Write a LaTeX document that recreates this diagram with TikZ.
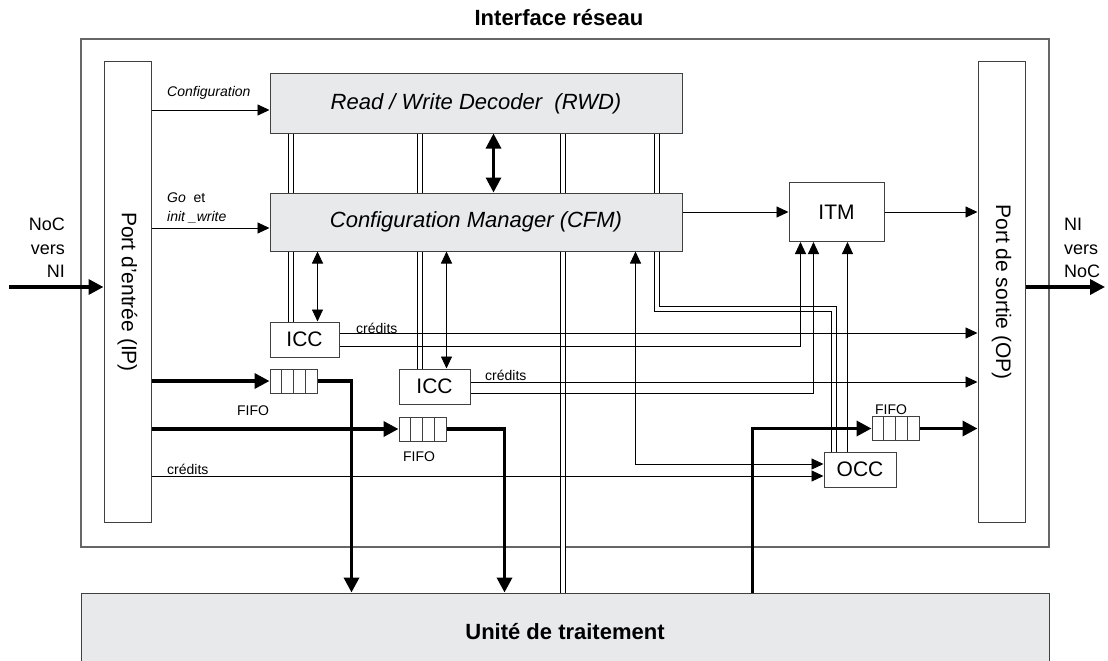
\documentclass[tikz,border=0pt]{standalone}
\usepackage{fontspec}
\setmainfont{Liberation Sans}
\usetikzlibrary{arrows.meta}
\definecolor{boxgray}{RGB}{232,233,235}

\begin{document}
\begin{tikzpicture}
	[x=1pt, y=-1pt,
	>={Triangle[length=12pt,width=11pt]},
	frame/.style={draw=black!60, line width=1.4pt, inner sep=0pt},
	box/.style={draw=black!75, line width=1pt, inner sep=0pt,
		font=\fontsize{21}{25}\selectfont},
	gbox/.style={box, fill=boxgray, font=\fontsize{22}{26}\selectfont\itshape},
	txt/.style={inner sep=0pt, font=\fontsize{21}{25}\selectfont},
	head/.style={inner sep=0pt, font=\fontsize{22}{26}\selectfont\bfseries},
	side/.style={inner sep=0pt, font=\fontsize{18}{23.5}\selectfont},
	lbl/.style={inner sep=0pt, font=\fontsize{14}{19}\selectfont},
	ilbl/.style={lbl, font=\fontsize{14}{19}\selectfont\itshape},
	fifo/.style={draw=black!75, line width=1pt, inner sep=0pt,
		minimum width=47pt, minimum height=24pt,
		path picture={\foreach \k in {1,2,3}
			\draw[black!75, line width=1pt]
			([xshift=\k*11.75pt]path picture bounding box.north west) --
			([xshift=\k*11.75pt]path picture bounding box.south west);}},
	arr/.style={line width=0.9pt, ->},
	both/.style={line width=0.9pt, <->},
	bus/.style={line width=1pt, double, double distance=4.5pt},
	data/.style={line width=3.5pt, -{Triangle[length=15pt,width=15pt]}},
	bigboth/.style={line width=3pt,
		{Triangle[length=15pt,width=15pt]}-{Triangle[length=15pt,width=15pt]}}]
	\useasboundingbox (0,0) rectangle (1108,661);
	% blocs
	\node[head] (title) at (559,18) {Interface réseau};
	\node[frame, minimum width=968pt, minimum height=508pt] (ni) at (565,293) {};
	\node[box, minimum width=47pt, minimum height=460pt] (ip) at (127.5,292) {};
	\node[txt, rotate=-90] (ip-txt) at (ip) {Port d'entrée (IP)};
	\node[box, minimum width=47pt, minimum height=460pt] (op) at (1001.5,292) {};
	\node[txt, rotate=-90] (op-txt) at (op) {Port de sortie (OP)};
	\node[gbox, minimum width=412pt, minimum height=59pt] (rwd) at (476,103.5)
		{Read / Write Decoder\ \ (RWD)};
	\node[gbox, minimum width=412pt, minimum height=58pt] (cfm) at (476,222)
		{Configuration Manager (CFM)};
	\node[box, minimum width=95pt, minimum height=59pt] (itm) at (836.5,212) {ITM};
	\node[box, minimum width=69pt, minimum height=35pt] (icc1) at (304.5,339.5) {ICC};
	\node[box, minimum width=71pt, minimum height=35pt] (icc2) at (434.5,386.5) {ICC};
	\node[box, minimum width=72pt, minimum height=35pt] (occ) at (860,469.5) {OCC};
	\node[fifo] (fifo1) at (293.5,381) {};
	\node[fifo] (fifo2) at (422.5,429) {};
	\node[fifo] (fifo3) at (895.5,428.5) {};
	\node[gbox, font=\fontsize{22}{26}\selectfont\bfseries,
		minimum width=968pt, minimum height=77pt] (pu) at (565,631.5)
		{Unité de traitement};
	% textes
	\node[side, anchor=east, align=right] (l-in) at (65,248) {NoC\\vers\\NI};
	\node[side, anchor=west, align=left] (l-out) at (1064,248) {NI\\vers\\NoC};
	\node[ilbl, anchor=west] (l-conf) at (167,93) {Configuration};
	\node[ilbl, anchor=west, align=left] (l-go) at (167,207.5)
		{Go\ \ \upshape et\\init \_write};
	\node[lbl, anchor=west] (l-cr0) at (167,469) {crédits};
	\node[lbl, anchor=west] (l-cr1) at (356,328) {crédits};
	\node[lbl, anchor=west] (l-cr2) at (485,375) {crédits};
	\node[lbl] (l-f1) at (253,411) {FIFO};
	\node[lbl] (l-f2) at (419,457) {FIFO};
	\node[lbl] (l-f3) at (891,410) {FIFO};
	% bus
	\foreach \dx in {21.5,150.5,293.5,387.5}
		\draw[bus] ([xshift=\dx pt]rwd.south west) -- ([xshift=\dx pt]cfm.north west);
	\draw[bus] ([xshift=21.5pt]cfm.south west) -- ([xshift=21.5pt]cfm.south west |- icc1.north);
	\draw[bus] ([xshift=150.5pt]cfm.south west) -- ([xshift=150.5pt]cfm.south west |- icc2.north);
	\draw[bus] ([xshift=293.5pt]cfm.south west) -- ([xshift=293.5pt]cfm.south west |- pu.north);
	\draw[bus] ([xshift=387.5pt]cfm.south west) -- ++(0,57.5) -| ([xshift=10.5pt]occ.north west);
	% controle
	\draw[arr] ([yshift=-6.5pt]rwd.west -| ip.east) -- ([yshift=-6.5pt]rwd.west);
	\draw[arr] ([yshift=-6pt]cfm.west -| ip.east) -- ([yshift=-6pt]cfm.west);
	\draw[bigboth] ([xshift=224pt]rwd.south west) -- ([xshift=224pt]cfm.north west);
	\draw[both] ([xshift=48pt]icc1.north west |- cfm.south) -- ([xshift=48pt]icc1.north west);
	\draw[both] ([xshift=48pt]icc2.north west |- cfm.south) -- ([xshift=48pt]icc2.north west);
	\draw[arr] (cfm.east |- itm.west) -- (itm.west);
	\draw[arr] (itm.east) -- (itm.east -| op.west);
	\draw[arr] ([yshift=6.5pt]icc1.east) -- ([yshift=6.5pt]icc1.east -| op.west);
	\draw[arr] ([yshift=-6.5pt]icc1.east) -| ([xshift=12pt]itm.south west);
	\draw[arr] ([yshift=4.5pt]icc2.east) -- ([yshift=4.5pt]icc2.east -| op.west);
	\draw[arr] ([yshift=-6.5pt]icc2.east) -| ([xshift=25pt]itm.south west);
	\draw[arr] ([xshift=24pt]occ.north west) -- ([xshift=24pt]occ.north west |- itm.south);
	\draw[both] ([xshift=366pt]cfm.south west) |- ([yshift=5.5pt]occ.west);
	\draw[arr] ([yshift=-6.5pt]occ.west -| ip.east) -- ([yshift=-6.5pt]occ.west);
	% donnees
	\coordinate (noc-in) at (9,287);
	\coordinate (noc-out) at (1105,287);
	\draw[data] (noc-in) -- (noc-in -| ip.west);
	\draw[data] (noc-out -| op.east) -- (noc-out);
	\draw[data] (fifo1.west -| ip.east) -- (fifo1.west);
	\draw[data] (fifo1.east) -| ([xshift=271pt]pu.north west);
	\draw[data] (fifo2.west -| ip.east) -- (fifo2.west);
	\draw[data] (fifo2.east) -| ([xshift=424pt]pu.north west);
	\draw[data] ([xshift=672pt]pu.north west) |- (fifo3.west);
	\draw[data] (fifo3.east) -- (fifo3.east -| op.west);
\end{tikzpicture}
\end{document}
